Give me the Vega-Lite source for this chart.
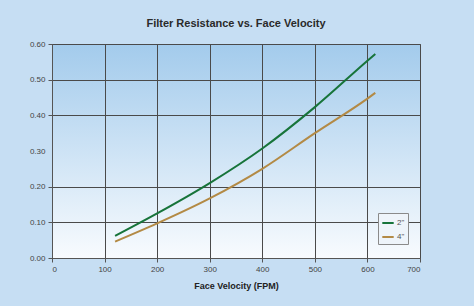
{
  "$schema": "https://vega.github.io/schema/vega-lite/v6.json",
  "width": 368,
  "height": 214,
  "autosize": {"type": "none"},
  "padding": {"left": 52, "top": 44, "right": 54, "bottom": 48},
  "background": "#c6def3",
  "title": {
    "text": "Filter Resistance vs. Face Velocity",
    "font": "Liberation Sans",
    "fontSize": 11,
    "fontWeight": "bold",
    "color": "#2a2a2a",
    "anchor": "middle",
    "offset": 11
  },
  "data": {
    "values": [
      {"v": 120, "r": 0.062, "s": "2\""},
      {"v": 200, "r": 0.125, "s": "2\""},
      {"v": 300, "r": 0.21, "s": "2\""},
      {"v": 400, "r": 0.307, "s": "2\""},
      {"v": 500, "r": 0.423, "s": "2\""},
      {"v": 600, "r": 0.553, "s": "2\""},
      {"v": 615, "r": 0.572, "s": "2\""},
      {"v": 120, "r": 0.046, "s": "4\""},
      {"v": 200, "r": 0.097, "s": "4\""},
      {"v": 300, "r": 0.167, "s": "4\""},
      {"v": 400, "r": 0.25, "s": "4\""},
      {"v": 500, "r": 0.35, "s": "4\""},
      {"v": 600, "r": 0.447, "s": "4\""},
      {"v": 615, "r": 0.463, "s": "4\""}
    ]
  },
  "mark": {"type": "line", "strokeWidth": 2, "interpolate": "monotone"},
  "encoding": {
    "x": {
      "field": "v",
      "type": "quantitative",
      "scale": {"domain": [0, 700], "nice": false},
      "axis": {
        "title": "Face Velocity (FPM)",
        "values": [0, 100, 200, 300, 400, 500, 600, 700],
        "titleFontSize": 9,
        "titlePadding": 8
      }
    },
    "y": {
      "field": "r",
      "type": "quantitative",
      "scale": {"domain": [0, 0.6], "nice": false},
      "axis": {
        "title": null,
        "format": ".2f",
        "values": [0, 0.1, 0.2, 0.3, 0.4, 0.5, 0.6],
        "gridOpacity": {"condition": {"test": "datum.value == 0.3", "value": 0}, "value": 1},
        "tickOpacity": {"condition": {"test": "datum.value == 0.3", "value": 0}, "value": 1}
      }
    },
    "color": {
      "field": "s",
      "type": "nominal",
      "scale": {"domain": ["2\"", "4\""], "range": ["#17743a", "#b38a45"]},
      "legend": {
        "title": null,
        "orient": "none",
        "legendX": 326,
        "legendY": 169,
        "symbolType": "stroke",
        "symbolSize": 130,
        "symbolStrokeWidth": 2,
        "labelFontSize": 8,
        "labelColor": "#555555",
        "labelFont": "Liberation Sans",
        "fillColor": "#eef4fa",
        "strokeColor": "#8a8a8a",
        "padding": 3,
        "rowPadding": 3,
        "labelOffset": 2
      }
    }
  },
  "config": {
    "font": "Liberation Sans",
    "view": {
      "stroke": "#666666",
      "strokeWidth": 1,
      "fill": {
        "gradient": "linear",
        "x1": 0, "y1": 0, "x2": 0, "y2": 1,
        "stops": [
          {"offset": 0, "color": "#a3cbec"},
          {"offset": 1, "color": "#f8fbfe"}
        ]
      }
    },
    "axis": {
      "gridColor": "#4a4a4a",
      "gridWidth": 1,
      "domainColor": "#555555",
      "tickColor": "#555555",
      "tickSize": 4,
      "labelFontSize": 8,
      "labelColor": "#444444",
      "labelPadding": 3,
      "titleFontWeight": "bold",
      "titleColor": "#222222"
    }
  }
}
